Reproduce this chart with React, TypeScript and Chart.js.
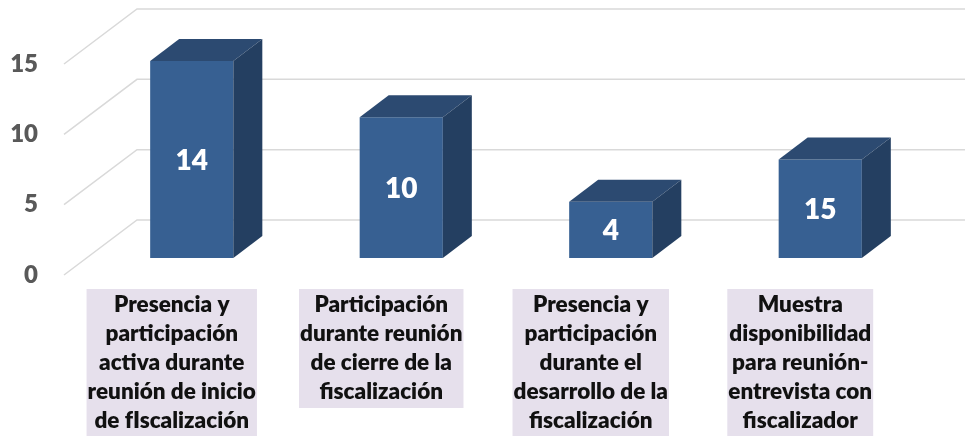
import React, { useEffect, useRef } from "react";
import { Chart, registerables } from "chart.js";

Chart.register(...registerables);

// ---- data ----
const categories: string[][] = [
  ["Presencia y", "participación", "activa durante", "reunión de inicio", "de fIscalización"],
  ["Participación", "durante reunión", "de cierre de la", "fiscalización"],
  ["Presencia y", "participación", "durante el", "desarrollo de la", "fiscalización"],
  ["Muestra", "disponibilidad", "para reunión-", "entrevista con", "fiscalizador"],
];
const values: number[] = [14, 10, 4, 7];
const dataLabels: string[] = ["14", "10", "4", "15"];
const yTicks: number[] = [0, 5, 10, 15];

const FONT = "Lato, 'Open Sans', 'DejaVu Sans', sans-serif";
const FRONT = "#376092";
const TOP = "#2c4a71";
const SIDE = "#243f61";
const GRID = "#d9d9d9";
const BOX = "#e6e0ec";
const LINE_H = 29;
const CAT_SIZE = 22.5;
const WEIGHT = 800;

const threeD = {
  id: "threeD",
  beforeDraw(chart: any) {
    const { ctx, chartArea, scales } = chart;
    const x = scales.x;
    ctx.save();
    ctx.font = `${WEIGHT} ${CAT_SIZE}px ${FONT}`;
    categories.forEach((lines, i) => {
      const cx = x.getPixelForValue(i) - 20;
      let w = 0;
      lines.forEach((l) => (w = Math.max(w, ctx.measureText(l).width)));
      w += 2;
      const top = chartArea.bottom + 31;
      const h = lines.length * LINE_H + 3;
      ctx.fillStyle = BOX;
      ctx.fillRect(cx - w / 2, top, w, h);
    });
    ctx.restore();
  },
  beforeDatasetsDraw(chart: any) {
    const { ctx, chartArea, scales } = chart;
    const y = scales.y;
    ctx.save();
    ctx.strokeStyle = GRID;
    ctx.lineWidth = 1.5;
    yTicks.forEach((v) => {
      const py = y.getPixelForValue(v);
      ctx.beginPath();
      ctx.moveTo(chartArea.left - 23, py + 17);
      ctx.lineTo(chartArea.left + 50, py - 38);
      ctx.lineTo(chart.width, py - 38);
      ctx.stroke();
    });
    ctx.restore();
  },
  afterDatasetsDraw(chart: any) {
    const { ctx } = chart;
    const meta = chart.getDatasetMeta(0);
    const dx = 29;
    const dy = 22;
    ctx.save();
    meta.data.forEach((bar: any, i: number) => {
      const { x, y, base, width } = bar.getProps(["x", "y", "base", "width"], true);
      const xl = x - width / 2;
      const xr = x + width / 2;
      ctx.fillStyle = TOP;
      ctx.beginPath();
      ctx.moveTo(xl, y);
      ctx.lineTo(xl + dx, y - dy);
      ctx.lineTo(xr + dx, y - dy);
      ctx.lineTo(xr, y);
      ctx.closePath();
      ctx.fill();
      ctx.fillStyle = SIDE;
      ctx.beginPath();
      ctx.moveTo(xr, y);
      ctx.lineTo(xr + dx, y - dy);
      ctx.lineTo(xr + dx, base - dy);
      ctx.lineTo(xr, base);
      ctx.closePath();
      ctx.fill();
      ctx.fillStyle = "#ffffff";
      ctx.font = `${WEIGHT} 28px ${FONT}`;
      ctx.textAlign = "center";
      ctx.textBaseline = "middle";
      ctx.fillText(dataLabels[i], x, (y + base) / 2 + 1);
    });
    ctx.restore();
  },
};

export default function App() {
  const ref = useRef<HTMLCanvasElement | null>(null);
  useEffect(() => {
    if (!ref.current) return;
    const chart = new Chart(ref.current, {
      type: "bar",
      data: {
        labels: categories,
        datasets: [
          {
            data: values,
            backgroundColor: FRONT,
            borderWidth: 0,
            categoryPercentage: 1,
            barPercentage: 0.397,
          },
        ],
      },
      options: {
        responsive: false,
        animation: false,
        devicePixelRatio: 1,
        layout: { padding: { top: 47, right: 40, left: 0, bottom: 0 } },
        plugins: { legend: { display: false }, tooltip: { enabled: false } },
        scales: {
          x: {
            grid: { display: false, drawTicks: false },
            border: { display: false },
            ticks: {
              labelOffset: -20,
              padding: 32,
              maxRotation: 0,
              autoSkip: false,
              color: "#111111",
              font: { family: FONT, size: CAT_SIZE, weight: WEIGHT as any, lineHeight: LINE_H / CAT_SIZE },
            },
            afterFit: (s: any) => {
              s.height = 178;
              s.paddingLeft = 0;
              s.paddingRight = 0;
            },
          },
          y: {
            min: 0,
            max: 15,
            grid: { display: false, drawTicks: false },
            border: { display: false },
            ticks: {
              stepSize: 5,
              padding: 49,
              labelOffset: 17,
              color: "#595959",
              font: { family: FONT, size: 24, weight: WEIGHT as any },
            },
            afterFit: (s: any) => {
              s.width = 87;
              s.paddingTop = 0;
              s.paddingBottom = 0;
            },
          },
        },
      },
      plugins: [threeD],
    });
    return () => chart.destroy();
  }, []);
  return (
    <div style={{ position: "absolute", left: 0, top: 0, width: 965, height: 436, background: "#fff" }}>
      <canvas ref={ref} width={965} height={436} />
    </div>
  );
}
